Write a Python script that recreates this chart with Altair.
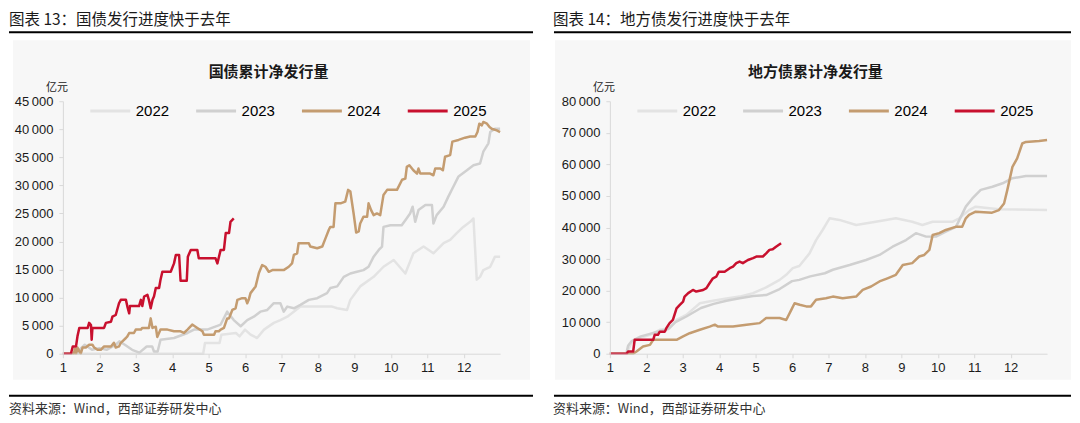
import altair as alt
import pandas as pd

YEARS = ["2022", "2023", "2024", "2025"]
COLORS = ["#e3e3e3", "#d0d0d0", "#c49c70", "#c8102e"]

MONTH_TICKS = list(range(1, 13))

# ---- 国债累计净发行量 (亿元) : (month position, value) ----
L22 = [(1.0, 0), (4.85, 0), (4.9, 1900), (5.3, 1900), (5.35, 3400), (5.75, 3700), (5.85, 3100),
       (6.0, 4300), (6.15, 3400), (6.33, 2800), (6.52, 4300), (6.79, 5500), (6.97, 6000),
       (7.16, 6600), (7.52, 8400), (7.79, 8400), (8.39, 8400), (8.53, 8100), (8.8, 7800),
       (8.89, 9600), (9.16, 12000), (9.53, 13700), (9.8, 15500), (10.08, 16700), (10.4, 14300),
       (10.62, 17900), (10.9, 19100), (11.17, 17900), (11.45, 19700), (11.63, 20300),
       (11.81, 21500), (11.99, 22600), (12.18, 23500), (12.27, 24100), (12.36, 13200),
       (12.45, 13700), (12.54, 14900), (12.73, 15500), (12.86, 17300), (13.0, 17300)]
L23 = [(1.0, 0), (1.4, 0), (1.45, 700), (1.6, 1600), (1.8, 700), (2.0, 1000), (2.2, 700),
       (2.45, 1600), (2.55, 2200), (2.7, 1600), (2.9, 700), (3.1, 200), (3.3, 1300), (3.45, 1300),
       (3.5, 400), (3.6, 400), (3.68, 2500), (4.05, 2800), (4.42, 3700), (4.6, 4300), (4.96, 4300),
       (5.33, 5200), (5.51, 7500), (5.69, 6000), (5.88, 4900), (6.06, 6000), (6.24, 6600),
       (6.42, 7500), (6.61, 7800), (6.79, 9000), (6.97, 9000), (7.06, 7500), (7.16, 8400),
       (7.34, 8100), (7.52, 8700), (7.75, 9600), (7.98, 9900), (8.25, 10800), (8.34, 11700),
       (8.53, 12000), (8.71, 13700), (8.89, 14300), (9.07, 14600), (9.25, 14900), (9.39, 15500),
       (9.53, 17300), (9.67, 18500), (9.76, 19100), (9.8, 22600), (9.99, 22900), (10.3, 22900),
       (10.4, 23800), (10.53, 25000), (10.6, 26200), (10.67, 23500), (10.76, 25600),
       (10.95, 26500), (11.13, 26500), (11.17, 23200), (11.26, 24700), (11.45, 26200),
       (11.58, 28000), (11.72, 29800), (11.86, 31600), (12.09, 32700), (12.27, 33600),
       (12.45, 33900), (12.54, 36000), (12.68, 37500), (12.73, 39500), (12.86, 40100), (13.0, 40100)]
L24 = [(1.0, 0), (1.3, 0), (1.33, 900), (1.36, 0), (1.4, 1100), (1.49, 0), (1.54, 1100),
       (1.63, 1100), (1.72, 1600), (1.81, 1600), (1.86, 1100), (1.95, 700), (2.04, 700),
       (2.13, 1300), (2.32, 1300), (2.4, 1950), (2.45, 1100), (2.54, 1300), (2.59, 1950),
       (2.73, 2800), (2.77, 3100), (2.82, 3700), (2.95, 3700), (3.0, 4300), (3.14, 4300),
       (3.18, 4600), (3.36, 4600), (3.41, 6300), (3.46, 4600), (3.55, 4800), (3.59, 3000),
       (3.68, 4300), (3.87, 4300), (4.05, 4000), (4.23, 4000), (4.32, 3700), (4.42, 4300),
       (4.55, 5200), (4.69, 4600), (4.83, 4000), (4.87, 3400), (5.15, 3400), (5.19, 4000),
       (5.28, 4000), (5.33, 4300), (5.42, 4600), (5.51, 6300), (5.56, 6300), (5.65, 7800),
       (5.74, 8100), (5.79, 9600), (5.92, 9900), (6.01, 9900), (6.06, 9000), (6.1, 9600),
       (6.15, 10800), (6.29, 12000), (6.38, 14400), (6.47, 15800), (6.56, 15500), (6.65, 14600),
       (6.75, 14900), (7.06, 14900), (7.2, 15500), (7.29, 16100), (7.34, 17600), (7.43, 17900),
       (7.47, 19700), (7.75, 19700), (7.79, 19100), (7.98, 18800), (8.12, 19100), (8.21, 20600),
       (8.3, 22100), (8.34, 22600), (8.43, 22600), (8.48, 26800), (8.62, 26800), (8.75, 27100),
       (8.83, 29200), (8.89, 28900), (8.98, 25000), (9.05, 21600), (9.12, 21800), (9.16, 23200),
       (9.25, 24400), (9.35, 24400), (9.39, 26800), (9.46, 25600), (9.53, 24700), (9.62, 25000),
       (9.71, 24700), (9.8, 28300), (9.9, 29200), (10.17, 29200), (10.31, 31000), (10.4, 31200),
       (10.44, 33300), (10.51, 33600), (10.62, 32700), (10.72, 32100), (10.76, 33000),
       (10.81, 32100), (11.08, 32100), (11.17, 31800), (11.22, 33000), (11.36, 33000),
       (11.43, 32700), (11.49, 35100), (11.63, 35400), (11.69, 37800), (11.86, 38100),
       (12.04, 38500), (12.18, 38700), (12.32, 38700), (12.38, 39500), (12.43, 41000),
       (12.5, 40700), (12.54, 41300), (12.64, 41000), (12.71, 40400), (12.77, 40100),
       (12.91, 39800), (13.0, 39500)]
L25 = [(1.0, 0), (1.22, 0), (1.27, 1300), (1.36, 1300), (1.4, 3100), (1.45, 4600), (1.68, 4600),
       (1.72, 5500), (1.77, 5100), (1.79, 2500), (1.81, 4600), (2.13, 4600), (2.18, 5500),
       (2.32, 5700), (2.36, 6600), (2.45, 6900), (2.54, 9000), (2.59, 9600), (2.73, 9600),
       (2.77, 8400), (2.82, 7200), (2.84, 8500), (3.09, 8500), (3.14, 9600), (3.18, 8500),
       (3.23, 10200), (3.32, 10500), (3.36, 9600), (3.41, 8100), (3.46, 9600), (3.5, 10200),
       (3.55, 11700), (3.64, 11700), (3.68, 13200), (3.73, 14600), (3.96, 14600), (4.05, 16100),
       (4.1, 17600), (4.19, 17600), (4.23, 13000), (4.4, 13000), (4.43, 17300), (4.51, 18500),
       (4.69, 18500), (4.73, 17000), (5.19, 17000), (5.24, 16100), (5.33, 18500), (5.42, 18500),
       (5.47, 21500), (5.56, 21500), (5.6, 23500), (5.69, 24100)]

# ---- 地方债累计净发行量 (亿元) ----
R22 = [(1.0, 0), (1.45, 0), (1.59, 3400), (1.82, 5000), (2.1, 6000), (2.37, 7600), (2.64, 8100),
       (2.83, 10700), (3.1, 12300), (3.47, 16000), (3.83, 16800), (4.2, 17500), (4.56, 18100),
       (4.93, 19200), (5.29, 21000), (5.66, 23400), (5.84, 25000), (6.02, 27100), (6.2, 27800),
       (6.48, 31800), (6.66, 36000), (6.84, 39200), (7.03, 42900), (7.3, 42400), (7.76, 40800),
       (8.3, 41800), (8.85, 42900), (9.3, 41800), (9.58, 40800), (9.86, 41800), (10.4, 41800),
       (10.59, 42900), (10.86, 45500), (11.04, 46600), (11.68, 45800), (13.0, 45500)]
R23 = [(1.0, 0), (1.45, 0), (1.5, 2500), (1.6, 4000), (1.85, 5500), (2.1, 6300), (2.4, 7300),
       (2.6, 7800), (2.8, 10000), (3.1, 11800), (3.5, 14500), (3.85, 15800), (4.2, 16800),
       (4.56, 17600), (4.93, 18300), (5.29, 18600), (5.66, 20500), (6.0, 23000), (6.2, 23400),
       (6.5, 24500), (6.9, 25500), (7.12, 26600), (7.58, 28100), (8.03, 29700), (8.4, 31300),
       (8.76, 33900), (9.13, 36000), (9.4, 38200), (9.68, 37100), (9.95, 37100), (10.22, 38700),
       (10.5, 40200), (10.77, 46600), (10.95, 49200), (11.18, 51900), (11.5, 52900),
       (11.78, 54000), (12.05, 55600), (12.42, 56300), (13.0, 56300)]
R24 = [(1.0, 0), (1.64, 0), (1.73, 700), (1.91, 2300), (2.1, 2800), (2.19, 4400), (2.83, 4400),
       (3.01, 5500), (3.19, 6500), (3.47, 7600), (3.74, 8600), (3.88, 9200), (3.97, 8600),
       (4.38, 8600), (4.75, 9200), (5.11, 9700), (5.29, 11300), (5.66, 11300), (5.84, 10700),
       (5.98, 13900), (6.07, 16000), (6.21, 15500), (6.39, 15000), (6.52, 15000), (6.66, 17100),
       (6.93, 17600), (7.12, 18100), (7.39, 17600), (7.76, 18100), (7.94, 20200), (8.17, 21300),
       (8.4, 22900), (8.62, 23900), (8.85, 25000), (9.04, 28100), (9.3, 28700), (9.49, 30800),
       (9.63, 31300), (9.77, 32900), (9.86, 37600), (10.04, 38200), (10.22, 39200),
       (10.49, 40200), (10.67, 40200), (10.77, 42900), (10.86, 44000), (11.04, 45000),
       (11.49, 44700), (11.68, 45500), (11.82, 47600), (11.91, 51900), (12.05, 59200),
       (12.18, 61900), (12.32, 66600), (12.42, 67100), (12.78, 67400), (13.0, 67700)]
R25 = [(1.0, 0), (1.46, 0), (1.5, 700), (1.64, 700), (1.68, 4400), (2.19, 4400), (2.23, 6000),
       (2.32, 6000), (2.37, 7000), (2.51, 7000), (2.55, 8100), (2.64, 9700), (2.73, 10700),
       (2.83, 14400), (2.92, 15500), (3.01, 16500), (3.05, 18100), (3.15, 19200), (3.28, 20200),
       (3.37, 19700), (3.56, 20200), (3.65, 20800), (3.74, 22400), (3.83, 23900), (3.92, 24400),
       (3.99, 26000), (4.15, 26000), (4.29, 27100), (4.38, 27600), (4.47, 28700), (4.56, 29200),
       (4.65, 28700), (4.79, 29700), (4.93, 30300), (5.02, 30800), (5.2, 30800), (5.29, 31800),
       (5.38, 32900), (5.47, 33100), (5.56, 33900), (5.7, 35000)]

HEADERS = ["图表 13：国债发行进度快于去年", "图表 14：地方债发行进度快于去年"]
TITLES = ["国债累计净发行量", "地方债累计净发行量"]
UNIT = "亿元"
SOURCE = "资料来源：Wind，西部证券研发中心"

CJK = "Noto Sans CJK SC"
NUM = "Liberation Sans Narrow, Liberation Sans, Arial, sans-serif"

W, H = 438, 253


def frame(series):
    rows = []
    for yr, pts in zip(YEARS, series):
        for i, (m, v) in enumerate(pts):
            rows.append({"m": m, "v": v, "year": yr, "i": i})
    return pd.DataFrame(rows)


def txt(s, x, y, size, color="#1a1a1a", align="left", weight="normal", font=CJK):
    return alt.Chart(pd.DataFrame({"t": [s]})).mark_text(
        align=align, baseline="middle", fontSize=size, font=font, color=color, fontWeight=weight
    ).encode(x=alt.value(x), y=alt.value(y), text="t:N")


def hrule(x0, x1, y, color="black", sw=2):
    return alt.Chart(pd.DataFrame({"a": [0]})).mark_rule(color=color, strokeWidth=sw).encode(
        x=alt.value(x0), x2=alt.value(x1), y=alt.value(y))


def box(x0, x1, y0, y1, color):
    return alt.Chart(pd.DataFrame({"a": [0]})).mark_rect(color=color).encode(
        x=alt.value(x0), x2=alt.value(x1), y=alt.value(y0), y2=alt.value(y1))


def panel(series, ymax, ystep, header, title, xl, xr, gx0, gx1, hx, rx0, rx1):
    df = frame(series)
    lines = alt.Chart(df).mark_line(strokeWidth=2.5, strokeJoin="round").encode(
        x=alt.X("m:Q", scale=alt.Scale(domain=[1, 13], nice=False, zero=False),
                axis=alt.Axis(values=MONTH_TICKS, title=None, labelFlush=False,
                              tickSize=4, labelPadding=4, zindex=1)),
        y=alt.Y("v:Q", scale=alt.Scale(domain=[0, ymax], nice=False),
                axis=alt.Axis(values=list(range(0, ymax + 1, ystep)), title=None,
                              tickSize=4, labelPadding=6, zindex=1,
                              labelExpr="replace(format(datum.value, ','), ',', '\u2009')")),
        color=alt.Color("year:N", scale=alt.Scale(domain=YEARS, range=COLORS),
                        legend=alt.Legend(orient="none", legendX=26, legendY=-12,
                                          direction="horizontal", title=None,
                                          symbolType="stroke", symbolSize=1600,
                                          symbolStrokeWidth=3, labelFontSize=15,
                                          labelFont="Liberation Sans, Arial, sans-serif",
                                          labelColor="black", columnPadding=20,
                                          labelOffset=4, padding=0)),
        order="i:Q",
    )
    layers = [
        box(xl, xr, -93, 314, "white"),
        box(gx0, gx1, -61, 279, "#f7f7f7"),
        txt(header, hx, -81, 15.5),
        hrule(rx0, rx1, -69),
        hrule(rx0, rx1, 295),
        txt(SOURCE, hx, 308, 13, color="#333333"),
        txt(title, 206, -29, 15, align="center", weight="bold"),
        txt(UNIT, -6, -13, 11, align="center"),
        lines,
    ]
    return alt.layer(*layers).properties(width=W, height=H)


left = panel([L22, L23, L24, L25], 45000, 5000, HEADERS[0], TITLES[0],
             -54, 478, -50, 468, -54, -54, 471)
right = panel([R22, R23, R24, R25], 80000, 10000, HEADERS[1], TITLES[1],
              -70, 462, -55, 462, -57, -56, 462)

chart = alt.hconcat(left, right, spacing=0).resolve_scale(
    color="independent", x="independent", y="independent"
).resolve_legend(color="independent").properties(
    padding=0, background="white"
).configure_view(stroke=None).configure_axis(
    domainColor="#d9d9d9", tickColor="#d9d9d9", grid=False,
    labelFont=NUM, labelFontSize=13, labelColor="#1a1a1a",
)

chart.save("out.html", embed_options={"renderer": "svg", "actions": False})
